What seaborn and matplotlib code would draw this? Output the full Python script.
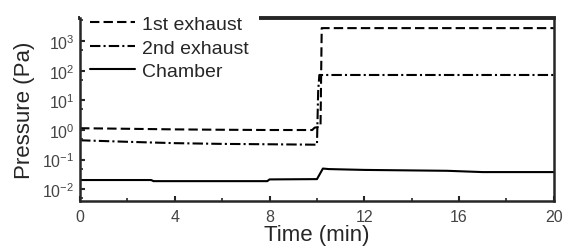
import numpy as np
import pandas as pd
import seaborn as sns
import matplotlib.pyplot as plt
from matplotlib.ticker import LogLocator, LogFormatterMathtext, MultipleLocator

# data
first_t = [0, 2, 4, 6, 8, 9.8, 9.9, 10.15, 10.2, 12, 16, 20]
first_p = [1.15, 1.1, 1.05, 1.02, 1.0, 1.0, 1.2, 1.3, 2750, 2750, 2750, 2750]

second_t = [0, 2, 4, 6, 8, 9.9, 10.0, 10.05, 10.1, 12, 16, 20]
second_p = [0.45, 0.4, 0.36, 0.34, 0.33, 0.32, 0.32, 20, 72, 72, 72, 72]

chamber_t = [0, 3, 3.1, 6, 7.9, 8.0, 10.0, 10.25, 10.5, 12, 15.5, 17, 20]
chamber_p = [0.0205, 0.0205, 0.0188, 0.0188, 0.0188, 0.0215, 0.022, 0.05, 0.048, 0.045, 0.042, 0.038, 0.038]

series_names = ["1st exhaust", "2nd exhaust", "Chamber"]

df = pd.concat([
    pd.DataFrame({"t": first_t, "p": first_p, "s": series_names[0]}),
    pd.DataFrame({"t": second_t, "p": second_p, "s": series_names[1]}),
    pd.DataFrame({"t": chamber_t, "p": chamber_p, "s": series_names[2]}),
])

sns.set_style("ticks")
plt.rcParams["font.family"] = ["Liberation Sans", "DejaVu Sans"]
plt.rcParams["mathtext.default"] = "regular"

fig = plt.figure(figsize=(5.64, 2.51), dpi=100)
ax = fig.add_axes([0.142, 0.195, 0.840, 0.729])

styles = {
    "1st exhaust": (0, (4.5, 2)),
    "2nd exhaust": (0, (5, 1.5, 1, 1.5)),
    "Chamber": "-",
}
for name in series_names:
    sub = df[df["s"] == name]
    sns.lineplot(data=sub, x="t", y="p", ax=ax, color="black", lw=1.5,
                 linestyle=styles[name], label=name, estimator=None, sort=False)

ax.set_yscale("log")
ax.set_xlim(0, 20)
ax.set_ylim(0.004, 6000)
ax.xaxis.set_major_locator(MultipleLocator(4))
ax.xaxis.set_minor_locator(MultipleLocator(2))
ax.yaxis.set_major_locator(LogLocator(base=10, numticks=20))
ax.yaxis.set_major_formatter(LogFormatterMathtext())
ax.yaxis.set_minor_locator(LogLocator(base=10, subs=[5.0], numticks=20))
ax.yaxis.set_minor_formatter(plt.NullFormatter())

ax.tick_params(which="both", direction="in", top=False, right=False,
               labelsize=11.5, labelcolor="#444444")
ax.tick_params(axis="x", pad=6)
ax.tick_params(axis="y", pad=4)
ax.tick_params(which="major", length=3.5, width=1.5)
ax.tick_params(which="minor", length=2, width=1.2)

for side in ["left", "bottom", "right"]:
    ax.spines[side].set_linewidth(1.8)
ax.spines["top"].set_linewidth(2.8)
# left spine and its ticks stay above the legend box, top spine is hidden by it
ax.spines["left"].set_zorder(6)
ax.yaxis.set_zorder(6)

ax.set_xlabel("Time (min)", fontsize=16, labelpad=0)
ax.set_ylabel("Pressure (Pa)", fontsize=16, labelpad=5)

leg = ax.legend(loc="upper left", bbox_to_anchor=(0.0, 1.067), frameon=True,
                fontsize=14, handlelength=2.3, handletextpad=0.4,
                labelspacing=0.3, borderpad=0.5, borderaxespad=0.0)
leg.get_frame().set_facecolor("white")
leg.get_frame().set_edgecolor("none")
leg.get_frame().set_alpha(1)

fig.savefig("out.png", dpi=100)
